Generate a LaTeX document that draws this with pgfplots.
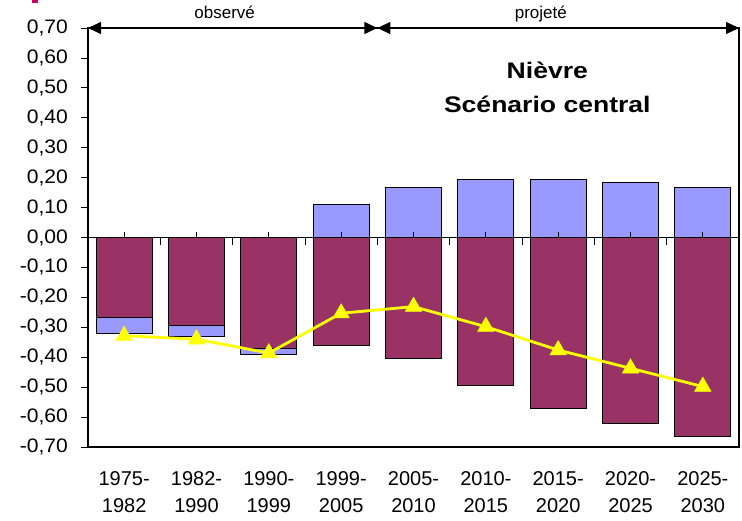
\documentclass[border=0pt]{standalone}
\usepackage{fontspec}
\setmainfont{Liberation Sans}
\newfontfamily\titlefont{Liberation Sans}[FakeStretch=1.18]
\newfontfamily\tickfont{Liberation Sans}[FakeStretch=1.08]
\usepackage{pgfplots}
\pgfplotsset{compat=1.18}
\usetikzlibrary{arrows.meta}
\definecolor{barblue}{HTML}{9999FF}
\definecolor{barmaroon}{HTML}{993366}
\definecolor{lineyellow}{HTML}{FFFF00}
\definecolor{mag}{HTML}{CC0066}

\begin{document}
\begin{tikzpicture}
\begin{axis}[
  scale only axis, width=651pt, height=419pt,
  xmin=-0.5, xmax=8.5, ymin=-0.7, ymax=0.7,
  xtick={0,1,2,3,4,5,6,7,8},
  xticklabels={{1975-\\1982},{1982-\\1990},{1990-\\1999},{1999-\\2005},{2005-\\2010},{2010-\\2015},{2015-\\2020},{2020-\\2025},{2025-\\2030}},
  xticklabel style={align=center, font=\fontsize{20}{27}\selectfont, yshift=-14pt},
  major x tick style={draw=none},
  ytick={-0.7,-0.6,-0.5,-0.4,-0.3,-0.2,-0.1,0,0.1,0.2,0.3,0.4,0.5,0.6,0.7},
  yticklabel style={font=\tickfont\fontsize{19.5}{19.5}\selectfont, inner sep=0pt, xshift=-13pt},
  ytick pos=left,
  tick align=outside, major tick length=7pt,
  major tick style={black, line width=0.8pt},
  axis line style={black, line width=1.2pt},
  /pgf/number format/.cd, fixed, fixed zerofill, precision=2, use comma, assume math mode=true,
  /pgfplots/.cd,
  clip=false,
]
% light blue bars (drawn first)
\addplot[ybar, bar width=56pt, bar shift=0pt, fill=barblue, draw=black, line width=0.8pt]
  coordinates {(0,-0.319) (1,-0.329) (2,-0.389) (3,0.111) (4,0.166) (5,0.193) (6,0.193) (7,0.183) (8,0.166)};
% maroon bars
\addplot[ybar, bar width=56pt, bar shift=0pt, fill=barmaroon, draw=black, line width=0.8pt]
  coordinates {(0,-0.267) (1,-0.295) (2,-0.371) (3,-0.361) (4,-0.403) (5,-0.495) (6,-0.570) (7,-0.621) (8,-0.666)};
% yellow line
\addplot[lineyellow, line width=2.8pt, mark=triangle*, mark size=9.5pt, mark options={fill=lineyellow, draw=lineyellow, line width=0.5pt}]
  coordinates {(0,-0.328) (1,-0.340) (2,-0.386) (3,-0.253) (4,-0.231) (5,-0.298) (6,-0.376) (7,-0.437) (8,-0.498)};
% zero axis line with ticks
\draw[black, line width=1.3pt] (axis cs:-0.5,0) -- (axis cs:8.5,0);
\pgfplotsinvokeforeach{0,1,2,3,4,5,6,7,8}{\draw[black, line width=0.8pt] (axis cs:#1,0) -- ++(0pt,6pt);}
\pgfplotsinvokeforeach{0.5,1.5,2.5,3.5,4.5,5.5,6.5,7.5}{\draw[black, line width=0.8pt] (axis cs:#1,0) -- ++(0pt,-7pt);}
% period arrows
\draw[black, line width=1pt, {Triangle[length=13pt,width=12pt]}-{Triangle[length=13pt,width=12pt]}] (axis cs:-0.5,0.7) -- (axis cs:3.5,0.7);
\draw[black, line width=1pt, {Triangle[length=13pt,width=12pt]}-{Triangle[length=13pt,width=12pt]}] (axis cs:3.5,0.7) -- (axis cs:8.5,0.7);
\node[anchor=base, font=\fontsize{17}{17}\selectfont, yshift=9pt] at (axis cs:1.39,0.7) {observé};
\node[anchor=base, font=\fontsize{17}{17}\selectfont, yshift=9pt] at (axis cs:5.76,0.7) {projeté};
% title
\node[anchor=base, font=\titlefont\bfseries\fontsize{22.5}{22.5}\selectfont] at (axis cs:5.85,0.5296) {Nièvre};
\node[anchor=base, font=\titlefont\bfseries\fontsize{22.5}{22.5}\selectfont] at (axis cs:5.85,0.416) {Scénario central};
\end{axis}
\fill[mag] ([shift={(-56pt,444pt)}]current axis.south west) rectangle ++(6pt,3pt);
\pgfresetboundingbox
\path[use as bounding box] ([shift={(-88pt,-73pt)}]current axis.south west) rectangle ([shift={(3pt,28pt)}]current axis.north east);
\end{tikzpicture}
\end{document}
